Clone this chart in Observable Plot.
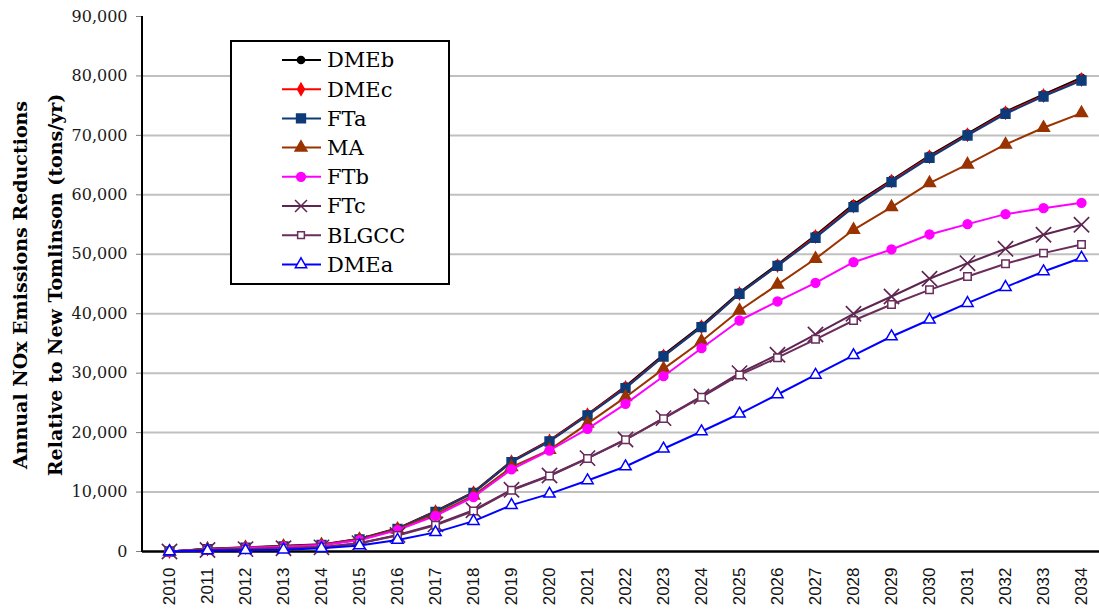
<!DOCTYPE html>
<html><head><meta charset="utf-8">
<script src="https://cdn.jsdelivr.net/npm/d3@7"></script>
<script src="https://cdn.jsdelivr.net/npm/@observablehq/plot@0.6"></script>
<style>
html,body{margin:0;padding:0;background:#fff;}
#chart{position:relative;width:1099px;height:609px;overflow:hidden}
#chart g[aria-label="x-axis tick label"], #chart g[aria-label="x-axis tick label"] text{font-family:'Liberation Sans',Arial,sans-serif !important;font-size:17px !important;}
#chart g[aria-label="y-axis tick label"], #chart g[aria-label="y-axis tick label"] text{font-family:'DejaVu Serif',serif !important;font-size:16px !important;}
#chart g[aria-label="text"], #chart g[aria-label="text"] text{font-family:'DejaVu Serif',serif !important;font-size:19px !important;font-weight:bold !important;}
#chart .legend text{font-family:'DejaVu Serif',serif;font-size:21px;text-anchor:start;}
</style>
</head><body><div id="chart"></div>
<script>
const years = [2010,2011,2012,2013,2014,2015,2016,2017,2018,2019,2020,2021,2022,2023,2024,2025,2026,2027,2028,2029,2030,2031,2032,2033,2034];
const yTicks = [0,10000,20000,30000,40000,50000,60000,70000,80000,90000];
const gridValues = [10000,20000,30000,40000,50000,60000,70000,80000];

const DMEb  = [0,450,700,950,1200,2150,3900,6800,10000,15200,18700,23100,27800,33100,38000,43600,48300,53200,58400,62500,66600,70300,74000,76900,79700];
const DMEc  = [0,420,680,900,1150,2100,3850,6700,9900,15100,18600,23000,27600,32900,37800,43400,48100,53000,58100,62300,66400,70100,73800,76700,79400];
const FTa   = [0,400,650,850,1100,2050,3780,6650,9870,15030,18500,22880,27480,32800,37740,43350,48050,52780,57930,62130,66230,69990,73630,76550,79240];
const MA    = [0,400,650,850,1100,2000,3700,6300,9400,14200,17100,21500,25960,30730,35380,40540,44900,49240,54120,57930,61970,65110,68470,71280,73740];
const FTb   = [0,350,600,800,1050,1900,3600,6000,9170,13800,16990,20640,24840,29490,34200,38860,42060,45200,48670,50810,53330,55070,56750,57760,58660];
const FTc   = [0,250,400,550,700,1400,2780,4560,6940,10380,12790,15700,18840,22430,26080,30000,33100,36510,39990,42900,45880,48500,50920,53280,54960];
const BLGCC = [0,250,400,550,700,1400,2700,4400,6800,10300,12700,15650,18800,22350,25950,29700,32600,35700,38860,41550,44020,46260,48400,50190,51650];
const DMEa  = [0,150,200,300,550,1000,1950,3220,5110,7800,9700,11950,14300,17280,20190,23170,26410,29700,33000,36170,38980,41780,44470,47110,49410];

const seriesNames = ["DMEb","DMEc","FTa","MA","FTb","FTc","BLGCC","DMEa"];
const seriesValues = [DMEb,DMEc,FTa,MA,FTb,FTc,BLGCC,DMEa];

// styles
const colors  = ["#000000","#FF0000","#0D3B7A","#993300","#FF00FF","#5E2550","#6B2D5C","#0000FF"];
const symbols = ["circle","diamond","square","triangle","circle","times","square","triangle"];
const fills   = ["#000000","#FF0000","#0D3B7A","#993300","#FF00FF","none","#FFFFFF","#FFFFFF"];
const radii   = [3.6,3.6,5,4.4,4.4,7,4.2,4.2];
const legendR = [3.6,3.6,5,4.4,4.4,5.5,3.8,4.2];
const d3sym = {circle:d3.symbolCircle, diamond:d3.symbolDiamond, square:d3.symbolSquare, triangle:d3.symbolTriangle, times:d3.symbolTimes};

const rows = seriesNames.map((name,i)=>years.map((year,j)=>({series:name, year, value:seriesValues[i][j]})));

const marks = [
  Plot.ruleY(gridValues, {stroke:"#c0c0c0", strokeWidth:2}),
  Plot.axisY({ticks:yTicks, tickSize:6, tickPadding:9, tickFormat:d3.format(","), stroke:"#808080", fill:"#1a1a1a", label:null}),
  Plot.axisX({tickRotate:-90, tickSize:0, tickPadding:16, fill:"#111", tickFormat:d=>String(d), label:null}),
  Plot.ruleY([0], {stroke:"#000", strokeWidth:2.5}),
  Plot.text(["Annual NOx Emissions Reductions\nRelative to New Tomlinson (tons/yr)"], {frameAnchor:"left", textAnchor:"middle", lineAnchor:"middle", rotate:-90, dx:-109, dy:1, lineHeight:1.8, fill:"#000"})
];
rows.forEach((data,i)=>{
  marks.push(Plot.line(data, {x:"year", y:"value", stroke:colors[i], strokeWidth:2}));
  marks.push(Plot.dot(data, {x:"year", y:"value", symbol:()=>symbols[i], r:radii[i], fill:fills[i], stroke:colors[i], strokeWidth:symbols[i]==="times"?1.6:1.5}));
});

const chart = Plot.plot({
  width:1099, height:609,
  marginLeft:142, marginRight:0, marginTop:16, marginBottom:58,
  style:{background:"#fff"},
  x:{type:"point", domain:years, range:[161,1088], padding:0},
  y:{domain:[0,90000]},
  symbol:{type:"identity"},
  marks
});
document.getElementById("chart").appendChild(chart);

const svg = d3.select(chart);
svg.append("line").attr("x1",142).attr("x2",142).attr("y1",16).attr("y2",552).attr("stroke","#000").attr("stroke-width",2);

const lg = svg.append("g").attr("class","legend");
lg.append("rect").attr("x",231).attr("y",41).attr("width",218).attr("height",243).attr("fill","#fff").attr("stroke","#000").attr("stroke-width",2);
seriesNames.forEach((name,i)=>{
  const y = 60 + i*29.2;
  lg.append("line").attr("x1",282).attr("x2",321).attr("y1",y).attr("y2",y).attr("stroke",colors[i]).attr("stroke-width",2);
  lg.append("path").attr("transform",`translate(301,${y})`)
    .attr("d", d3.symbol(d3sym[symbols[i]], Math.PI*legendR[i]*legendR[i])())
    .attr("fill",fills[i]).attr("stroke",colors[i]).attr("stroke-width",1.5);
  lg.append("text").attr("x",327).attr("y",y).attr("dy","0.35em").attr("fill","#000").text(name);
});
</script>
</body></html>
